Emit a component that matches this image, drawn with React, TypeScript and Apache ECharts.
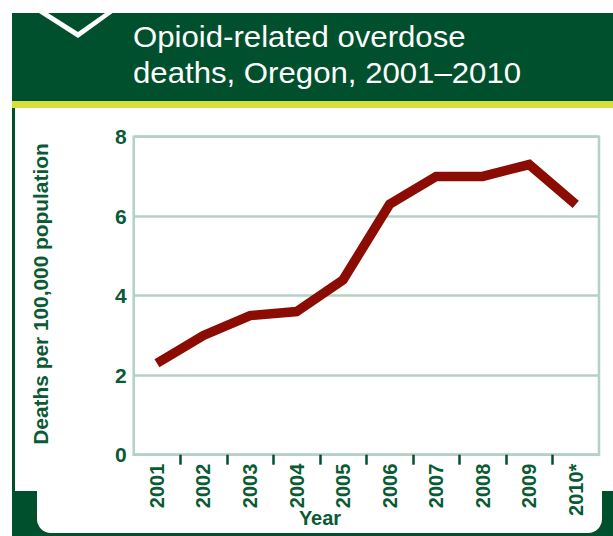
import React, { useEffect, useRef } from 'react';
import * as echarts from 'echarts';

const years = ['2001', '2002', '2003', '2004', '2005', '2006', '2007', '2008', '2009', '2010*'];
const deathsPer100k = [2.3, 3.0, 3.5, 3.6, 4.4, 6.3, 7.0, 7.0, 7.3, 6.3];
const yMin = 0;
const yMax = 8;
const yStep = 2;
const titleLines = ['Opioid-related overdose', 'deaths, Oregon, 2001–2010'];
const yAxisTitle = 'Deaths per 100,000 population';
const xAxisTitle = 'Year';

const DARK = '#00502D';
const TXT = '#0A5A34';
const YELLOW = '#D5E03C';
const GRIDC = '#B4D1C6';
const LINEC = '#8B0C02';
const FONT = '"Liberation Sans", Arial, Helvetica, sans-serif';
const NARROW = '"Liberation Sans Narrow", "Arial Narrow", "Liberation Sans", Arial, sans-serif';

// tick marks sit on the boundaries between year bands
const bandBoundaries = years.slice(1).map((_, i) => i + 1);

export default function App() {
  const ref = useRef<HTMLDivElement>(null);
  useEffect(() => {
    if (!ref.current) return;
    const chart = echarts.init(ref.current, undefined, { renderer: 'svg' });
    chart.setOption({
      animation: false,
      backgroundColor: '#ffffff',
      grid: {
        left: 133.7,
        top: 136.7,
        right: 14,
        bottom: 81.3,
        show: true,
        borderColor: GRIDC,
        borderWidth: 2.5,
        backgroundColor: 'transparent',
      },
      xAxis: [
        {
          type: 'category',
          data: years,
          boundaryGap: true,
          axisLine: { show: false },
          axisTick: { show: false },
          splitLine: { show: false },
          axisLabel: {
            rotate: 90,
            interval: 0,
            margin: 9,
            color: TXT,
            fontSize: 20,
            fontWeight: 'bold',
            fontFamily: NARROW,
          },
        },
        {
          type: 'value',
          min: 0,
          max: years.length,
          position: 'bottom',
          axisLine: { show: false },
          axisLabel: { show: false },
          splitLine: { show: false },
          axisTick: {
            show: true,
            customValues: bandBoundaries,
            length: 10,
            lineStyle: { color: DARK, width: 2.5 },
          },
        },
      ],
      yAxis: {
        type: 'value',
        min: yMin,
        max: yMax,
        interval: yStep,
        axisLine: { show: false },
        axisTick: { show: false },
        splitLine: { lineStyle: { color: GRIDC, width: 2.5 } },
        axisLabel: {
          color: TXT,
          fontSize: 21,
          fontWeight: 'bold',
          margin: 7,
          fontFamily: FONT,
        },
      },
      series: [
        {
          type: 'line',
          xAxisIndex: 0,
          data: deathsPer100k,
          symbol: 'none',
          z: 3,
          lineStyle: { color: LINEC, width: 9.5, join: 'miter', cap: 'butt' },
        },
      ],
      graphic: [
        { type: 'rect', z: -5, shape: { x: 12, y: 13, width: 601, height: 88 }, style: { fill: DARK } },
        { type: 'polygon', z: -4, shape: { points: [[25, 4], [78, 38], [125, 4]] }, style: { fill: '#ffffff' } },
        { type: 'polygon', z: -3, shape: { points: [[48, 13], [78, 32], [105, 13]] }, style: { fill: DARK } },
        { type: 'rect', z: -5, shape: { x: 12, y: 101, width: 601, height: 7 }, style: { fill: YELLOW } },
        { type: 'rect', z: -5, shape: { x: 12, y: 108, width: 3, height: 390 }, style: { fill: DARK } },
        { type: 'rect', z: -5, shape: { x: 12, y: 491, width: 601, height: 45 }, style: { fill: DARK } },
        { type: 'rect', z: -4, shape: { x: 37, y: 470, width: 565, height: 63, r: [0, 0, 14, 14] }, style: { fill: '#ffffff' } },
        {
          type: 'text', z: 10, x: 133, y: 36.5, scaleX: 1.075,
          style: { text: titleLines[0], fill: '#ffffff', font: `29px ${FONT}`, textAlign: 'left', textVerticalAlign: 'middle' },
        },
        {
          type: 'text', z: 10, x: 133, y: 73, scaleX: 1.075,
          style: { text: titleLines[1], fill: '#ffffff', font: `29px ${FONT}`, textAlign: 'left', textVerticalAlign: 'middle' },
        },
        {
          type: 'text', z: 10, x: 41, y: 294, rotation: Math.PI / 2, scaleX: 1.07,
          style: { text: yAxisTitle, fill: TXT, font: `bold 19.5px ${FONT}`, textAlign: 'center', textVerticalAlign: 'middle' },
        },
        {
          type: 'text', z: 10, x: 320, y: 518,
          style: { text: xAxisTitle, fill: TXT, font: `bold 20px ${FONT}`, textAlign: 'center', textVerticalAlign: 'middle' },
        },
      ],
    });
    return () => chart.dispose();
  }, []);
  return <div ref={ref} style={{ position: 'fixed', left: 0, top: 0, width: 613, height: 536 }} />;
}
